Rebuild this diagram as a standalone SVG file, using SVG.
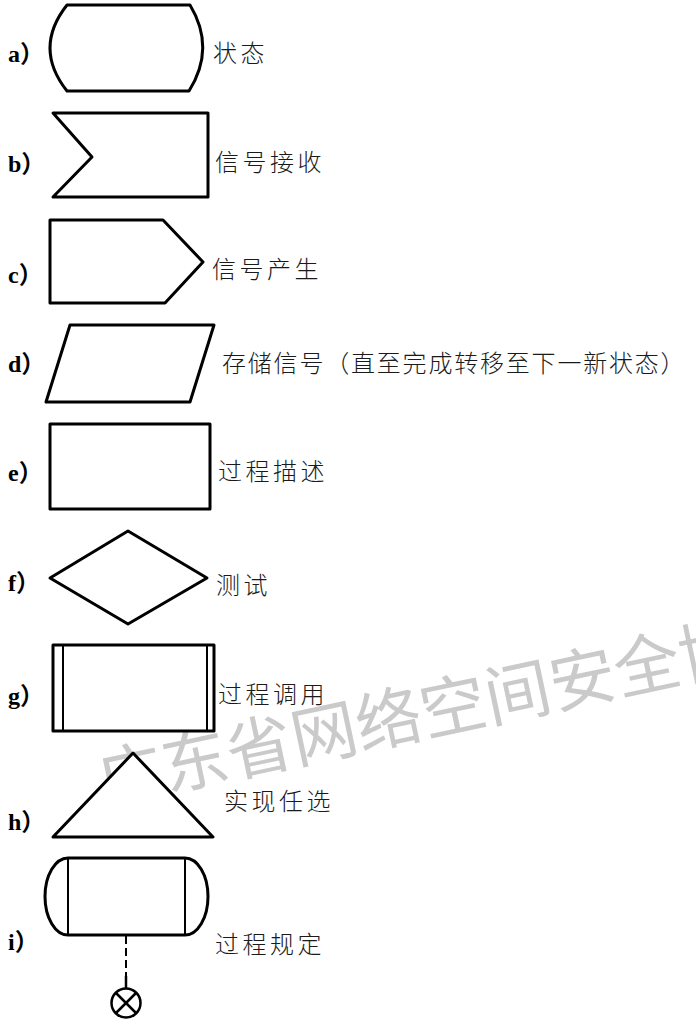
<svg xmlns="http://www.w3.org/2000/svg" width="696" height="1020" viewBox="0 0 696 1020">
<style>
.s{fill:#fff;stroke:#000;stroke-width:3;stroke-linejoin:round}
.t{stroke:#000;stroke-width:2;fill:none}
.lb{font-family:"Liberation Serif","Noto Sans CJK SC",serif;font-weight:bold;font-size:24px;fill:#000}
.tx{font-family:"Noto Sans CJK SC",sans-serif;font-weight:300;font-size:24px;letter-spacing:3.5px;fill:#1a1a1a}
.wm{font-family:"Noto Sans CJK SC",sans-serif;font-weight:400;font-size:66px;fill:#cacaca}
</style>
<rect width="696" height="1020" fill="#fff"/>
<g id="watermark"><text class="wm" x="103" y="805" transform="rotate(-12 103 805)">广东省网络空间安全协</text></g>
<g id="a"><path class="s" d="M67 5 L190 5 Q216 48 189 91 L67 91 Q33 48 67 5 Z"/><text class="lb" x="8" y="62">a）</text><text class="tx" x="213" y="62">状态</text></g>
<g id="b"><polygon class="s" points="53,113 208,113 208,197 53,197 92,157"/><text class="lb" x="8" y="172">b）</text><text class="tx" x="215" y="171">信号接收</text></g>
<g id="c"><polygon class="s" points="50,220 163,220 203,262 165,303 50,303"/><text class="lb" x="8" y="283">c）</text><text class="tx" x="212" y="278">信号产生</text></g>
<g id="d"><polygon class="s" points="70,325 214,325 190,402 46,402"/><text class="lb" x="8" y="372">d）</text><text class="tx" x="222" y="372" style="letter-spacing:1.8px">存储信号（直至完成转移至下一新状态）</text></g>
<g id="e"><rect class="s" x="50" y="424" width="160" height="85"/><text class="lb" x="8" y="481">e）</text><text class="tx" x="218" y="480">过程描述</text></g>
<g id="f"><polygon class="s" points="50,578 128,531 207,578 128,624"/><text class="lb" x="8" y="591">f）</text><text class="tx" x="216" y="594">测试</text></g>
<g id="g"><rect class="s" x="53" y="645" width="161" height="86"/><line class="t" x1="63" y1="645" x2="63" y2="731" stroke-width="3"/><line class="t" x1="207" y1="645" x2="207" y2="731"/><text class="lb" x="8" y="704">g）</text><text class="tx" x="218" y="703">过程调用</text></g>
<g id="h"><polygon class="s" points="133,753 213,837 53,837"/><text class="lb" x="8" y="830">h）</text><text class="tx" x="224" y="810">实现任选</text></g>
<g id="i"><path class="s" d="M68 858 L185 858 A23 38.5 0 0 1 185 935 L68 935 A23 38.5 0 0 1 68 858 Z"/><line class="t" x1="68" y1="858" x2="68" y2="935"/><line class="t" x1="185" y1="858" x2="185" y2="935"/><text class="lb" x="8" y="950">i）</text><text class="tx" x="215" y="953">过程规定</text></g>
<g id="connectors"><line x1="126" y1="936" x2="126" y2="976" stroke="#000" stroke-width="2" stroke-dasharray="8,4"/><line x1="126" y1="976" x2="126" y2="988" stroke="#000" stroke-width="2.5"/><circle cx="126" cy="1003" r="14.5" fill="none" stroke="#000" stroke-width="2.5"/><line x1="116" y1="993" x2="136" y2="1013" stroke="#000" stroke-width="2.5"/><line x1="136" y1="993" x2="116" y2="1013" stroke="#000" stroke-width="2.5"/></g>
</svg>
